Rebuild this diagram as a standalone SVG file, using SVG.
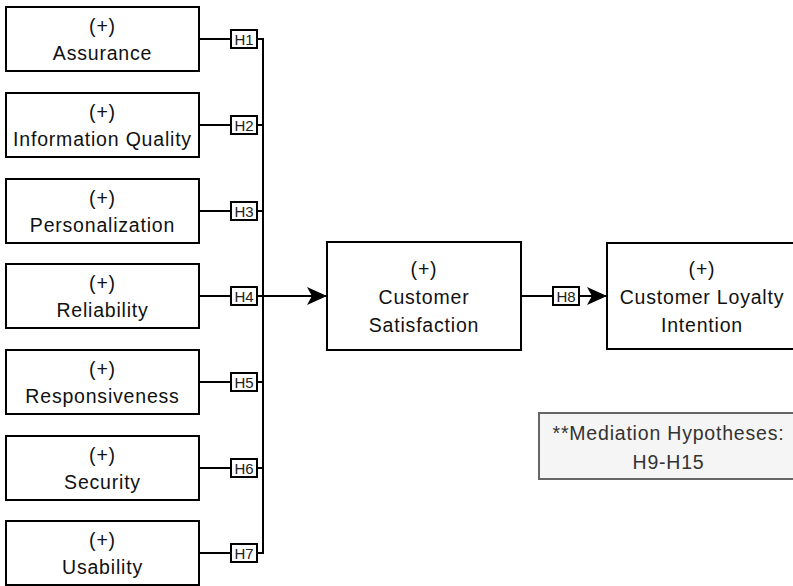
<svg xmlns="http://www.w3.org/2000/svg" width="793" height="586" viewBox="0 0 793 586">
<style>
.box{fill:#fff;stroke:#000;stroke-width:2}
.t{font-family:"Liberation Sans",Arial,Helvetica,sans-serif;font-size:19.5px;letter-spacing:0.8px;fill:#111;text-anchor:middle}
.wire{fill:none;stroke:#000;stroke-width:2}
.lbl{fill:#fff;stroke:#000;stroke-width:2}
.lt{font-family:"Liberation Sans",Arial,Helvetica,sans-serif;font-size:15px;fill:#222;text-anchor:middle}
.note{fill:#f5f5f5;stroke:#666;stroke-width:2}
.nt{font-family:"Liberation Sans",Arial,Helvetica,sans-serif;font-size:19.5px;letter-spacing:0.8px;fill:#333;text-anchor:middle}
</style>
<defs>
<marker id="arr" viewBox="0 0 20 18" refX="20" refY="9" markerWidth="20" markerHeight="18" markerUnits="userSpaceOnUse" orient="auto">
<path d="M0,0 L20,9 L0,18 L5,9 Z" fill="#000"/>
</marker>
</defs>
<rect width="793" height="586" fill="#fff"/>
<g id="connectors">
<path class="wire" d="M199,39H263M199,125H263M199,211H263M199,296H263M199,382H263M199,468H263M199,553H263M263,38V554"/>
<path class="wire" d="M263,296H327" marker-end="url(#arr)"/>
<path class="wire" d="M521,296H607" marker-end="url(#arr)"/>
<g id="labels">
<rect class="lbl" x="231" y="30" width="26" height="18"/><text class="lt" x="244" y="44.5">H1</text>
<rect class="lbl" x="231" y="116" width="26" height="18"/><text class="lt" x="244" y="130.5">H2</text>
<rect class="lbl" x="231" y="202" width="26" height="18"/><text class="lt" x="244" y="216.5">H3</text>
<rect class="lbl" x="231" y="287" width="26" height="18"/><text class="lt" x="244" y="301.5">H4</text>
<rect class="lbl" x="231" y="373" width="26" height="18"/><text class="lt" x="244" y="387.5">H5</text>
<rect class="lbl" x="231" y="459" width="26" height="18"/><text class="lt" x="244" y="473.5">H6</text>
<rect class="lbl" x="231" y="544" width="26" height="18"/><text class="lt" x="244" y="558.5">H7</text>
<rect class="lbl" x="553" y="287" width="26" height="18"/><text class="lt" x="566" y="301.5">H8</text>
</g>
</g>
<g id="assurance"><rect class="box" x="6" y="7" width="193" height="64"/><text class="t" x="102.5" y="33">(+)</text><text class="t" x="102.5" y="60">Assurance</text></g>
<g id="information-quality"><rect class="box" x="6" y="93" width="193" height="64"/><text class="t" x="102.5" y="119">(+)</text><text class="t" x="102.5" y="146">Information Quality</text></g>
<g id="personalization"><rect class="box" x="6" y="179" width="193" height="64"/><text class="t" x="102.5" y="205">(+)</text><text class="t" x="102.5" y="232">Personalization</text></g>
<g id="reliability"><rect class="box" x="6" y="264" width="193" height="64"/><text class="t" x="102.5" y="290">(+)</text><text class="t" x="102.5" y="317">Reliability</text></g>
<g id="responsiveness"><rect class="box" x="6" y="350" width="193" height="64"/><text class="t" x="102.5" y="376">(+)</text><text class="t" x="102.5" y="403">Responsiveness</text></g>
<g id="security"><rect class="box" x="6" y="436" width="193" height="64"/><text class="t" x="102.5" y="462">(+)</text><text class="t" x="102.5" y="489">Security</text></g>
<g id="usability"><rect class="box" x="6" y="521" width="193" height="64"/><text class="t" x="102.5" y="547">(+)</text><text class="t" x="102.5" y="574">Usability</text></g>
<g id="customer-satisfaction"><rect class="box" x="327" y="242" width="194" height="108"/><text class="t" x="424" y="276">(+)</text><text class="t" x="424" y="304">Customer</text><text class="t" x="424" y="332">Satisfaction</text></g>
<g id="customer-loyalty"><rect class="box" x="607" y="243" width="190" height="106"/><text class="t" x="702" y="276">(+)</text><text class="t" x="702" y="304">Customer Loyalty</text><text class="t" x="702" y="332">Intention</text></g>
<g id="mediation-note"><rect class="note" x="539" y="413" width="260" height="66"/><text class="nt" x="668.5" y="440">**Mediation Hypotheses:</text><text class="nt" x="668.5" y="469">H9-H15</text></g>
</svg>
